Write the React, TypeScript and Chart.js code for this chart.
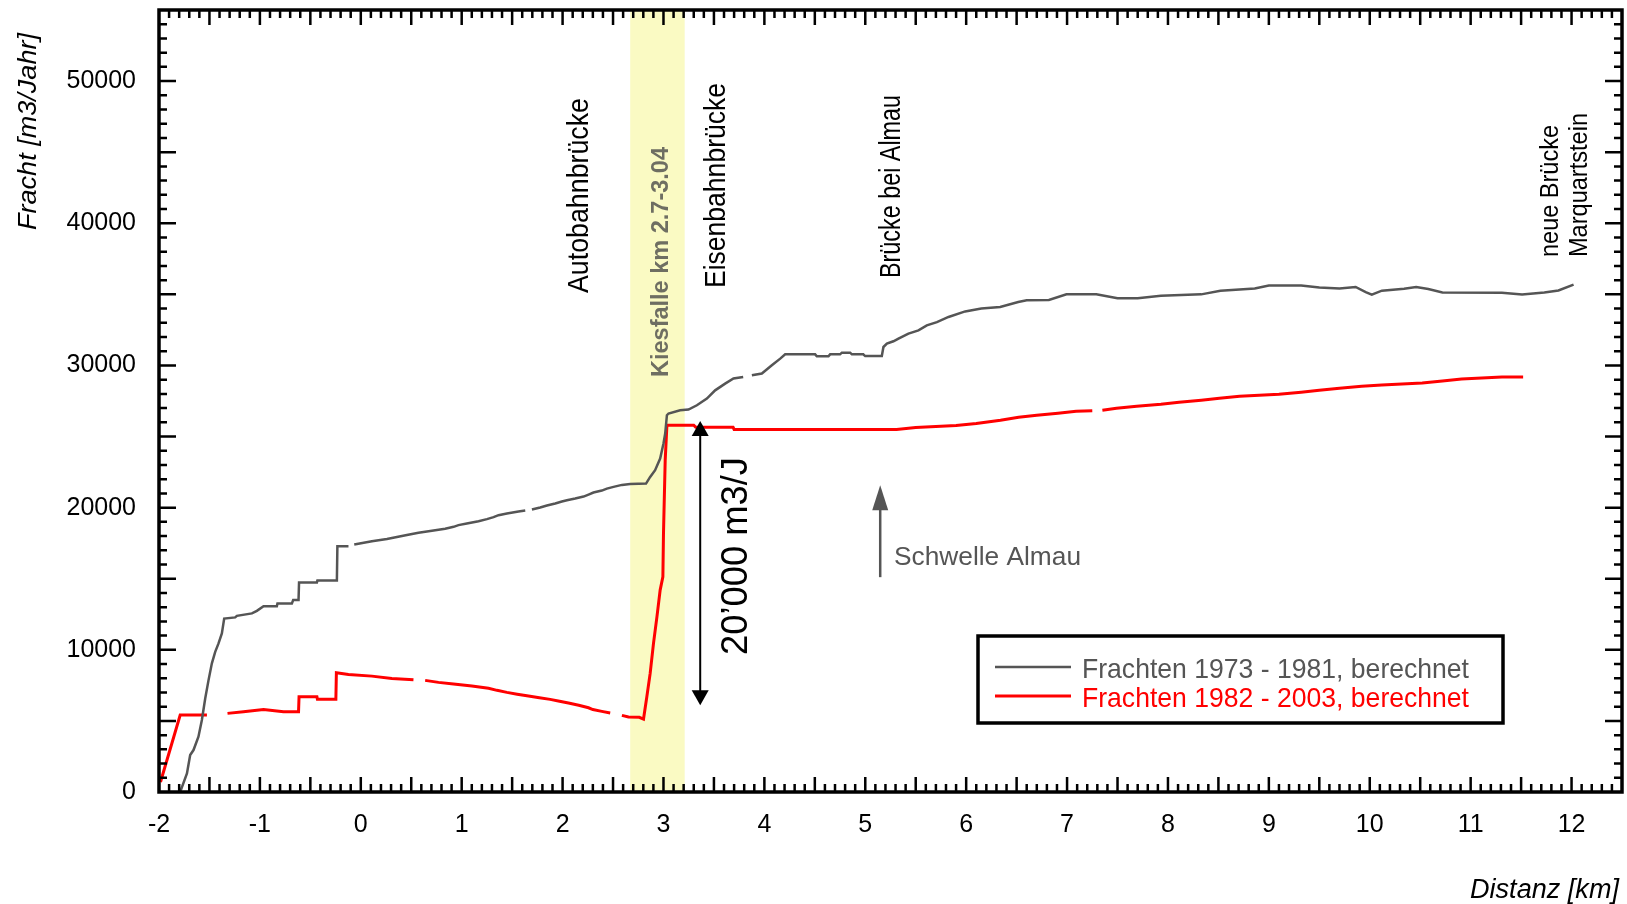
import React, { useEffect, useRef } from "react";
import { Chart, registerables } from "chart.js";

Chart.register(...registerables);

// ---------- data ----------
const seriesNames = ["Frachten 1973 - 1981, berechnet", "Frachten 1982 - 2003, berechnet"];

// Frachten 1973 - 1981 (grey)
const distance1973 = [
  -1.79, -1.723, -1.691, -1.658, -1.609, -1.575, -1.542, -1.509, -1.476, -1.443, -1.41, -1.377, -1.354,
  -1.245, -1.228, -1.079, -1.03, -0.964, -0.832, -0.826, -0.683, -0.67, -0.617, -0.612, -0.435, -0.43,
  -0.237, -0.232, -0.122, -0.1, -0.065, 0.11, 0.259, 0.358, 0.457, 0.572, 0.705, 0.836, 0.92, 0.968,
  1.051, 1.167, 1.25, 1.316, 1.365, 1.448, 1.563, 1.63, 1.66, 1.696, 1.778, 1.845, 1.927, 1.993, 2.043,
  2.125, 2.208, 2.257, 2.306, 2.389, 2.439, 2.505, 2.588, 2.67, 2.827, 2.868, 2.917, 2.967, 3.0, 3.017,
  3.034, 3.05, 3.165, 3.248, 3.331, 3.43, 3.512, 3.611, 3.694, 3.79, 3.83, 3.876, 3.975, 4.074, 4.157,
  4.206, 4.503, 4.52, 4.635, 4.652, 4.75, 4.768, 4.85, 4.867, 4.98, 4.999, 5.164, 5.18, 5.214, 5.279,
  5.329, 5.428, 5.527, 5.61, 5.71, 5.825, 5.99, 6.15, 6.337, 6.516, 6.6, 6.82, 6.994, 7.29, 7.5, 7.7,
  7.93, 8.33, 8.52, 8.86, 9.0, 9.32, 9.5, 9.7, 9.86, 9.96, 10.02, 10.12, 10.34, 10.46, 10.58, 10.72,
  11.31, 11.51, 11.73, 11.87, 12.02,
];
const load1973 = [
  0, 1310, 2600, 2950, 3890, 5060, 6580, 7870, 9050, 9860, 10450, 11150, 12200,
  12280, 12390, 12560, 12740, 13070, 13070, 13260, 13260, 13500, 13500, 14740, 14740, 14880,
  14880, 17290, 17290, null, 17410, 17640, 17800, 17940, 18080, 18240, 18380, 18520, 18650, 18770,
  18890, 19040, 19190, 19330, 19470, 19590, 19730, 19800, null, 19870, 20010, 20150, 20290, 20430, 20520,
  20640, 20780, 20920, 21060, 21200, 21340, 21460, 21600, 21670, 21690, 22160, 22630, 23450, 24510, 25210,
  26500, 26620, 26850, 26900, 27200, 27670, 28250, 28720, 29080, 29190, null, 29310, 29430, 30010, 30480,
  30780, 30780, 30640, 30640, 30780, 30780, 30900, 30900, 30780, 30780, 30660, 30660, 31300, 31530, 31700,
  31890, 32240, 32470, 32820, 33050, 33410, 33800, 34000, 34110, 34460, 34580, 34600, 35000, 35000, 34720, 34720,
  34900, 35000, 35250, 35420, 35630, 35630, 35480, 35420, 35520, 35150, 34980, 35260, 35400, 35520, 35380, 35130,
  35120, 34990, 35130, 35270, 35680,
];

// Frachten 1982 - 2003 (red)
const distance1982 = [
  -1.985, -1.79, -1.525, -1.42, -1.321, -1.163, -0.964, -0.766, -0.617, -0.612, -0.435, -0.43, -0.247,
  -0.242, -0.122, 0.11, 0.308, 0.522, 0.58, 0.638, 0.77, 0.919, 1.101, 1.266, 1.35, 1.448, 1.55, 1.662,
  1.77, 1.877, 1.97, 2.058, 2.16, 2.257, 2.3, 2.389, 2.472, 2.53, 2.588, 2.653, 2.76, 2.802, 2.835, 2.868,
  2.901, 2.935, 2.967, 2.994, 3.0, 3.017, 3.034, 3.3, 3.32, 3.69, 3.7, 5.31, 5.5, 5.9, 6.1, 6.34, 6.52,
  6.7, 6.91, 7.09, 7.25, 7.3, 7.35, 7.49, 7.69, 7.93, 8.11, 8.33, 8.51, 8.71, 9.1, 9.32, 9.5, 9.7, 9.92,
  10.12, 10.52, 10.72, 10.91, 11.31, 11.52,
];
const load1982 = [
  700, 5410, 5410, null, 5530, 5645, 5810, 5645, 5645, 6700, 6700, 6515, 6515,
  8385, 8270, 8150, 7990, 7900, null, 7850, 7710, 7590, 7450, 7290, 7150, 7007, 6880, 6747,
  6630, 6515, 6380, 6255, 6100, 5925, 5800, 5670, 5560, null, 5390, 5270, 5250, 5130, 6700, 8340,
  10450, 12320, 14200, 15130, 18180, 23340, 25800, 25800, 25650, 25650, 25500, 25500, 25630, 25770, 25910, 26150, 26360,
  26500, 26640, 26780, 26820, null, 26850, 26990, 27130, 27270, 27410, 27550, 27690, 27830, 27970, 28110, 28250, 28395, 28535,
  28630, 28770, 28910, 29050, 29190, 29190,
];

const xTickValues = [-2, -1, 0, 1, 2, 3, 4, 5, 6, 7, 8, 9, 10, 11, 12];
const yTickValues = [0, 10000, 20000, 30000, 40000, 50000];
const kiesfalleKm = [2.67, 3.21];

const xTitle = "Distanz [km]";
const yTitle = "Fracht [m3/Jahr]";
const bandLabel = "Kiesfalle km 2.7-3.04";
const difference = { km: 3.364, from: 26100, to: 6100, label: "20’000 m3/J" };
const sill = { km: 5.148, from: 15110, to: 21580, label: "Schwelle Almau" };

const FONT = "'Liberation Sans', Arial, sans-serif";
const GREY = "#555555";
const RED = "#ff0000";

function vText(ctx: CanvasRenderingContext2D, text: string, baseX: number, startY: number, font: string, color: string, len: number) {
  ctx.save();
  ctx.font = font;
  const w = ctx.measureText(text).width;
  ctx.translate(baseX, startY);
  ctx.rotate(-Math.PI / 2);
  ctx.scale(len / w, 1);
  ctx.fillStyle = color;
  ctx.textAlign = "left";
  ctx.textBaseline = "alphabetic";
  ctx.fillText(text, 0, 0);
  ctx.restore();
}

function hText(ctx: CanvasRenderingContext2D, text: string, x: number, baseY: number, font: string, color: string, len: number) {
  ctx.save();
  ctx.font = font;
  const w = ctx.measureText(text).width;
  ctx.translate(x, baseY);
  ctx.scale(len / w, 1);
  ctx.fillStyle = color;
  ctx.textAlign = "left";
  ctx.textBaseline = "alphabetic";
  ctx.fillText(text, 0, 0);
  ctx.restore();
}

function arrowHead(ctx: CanvasRenderingContext2D, x: number, tipY: number, dir: number, w: number, l: number) {
  ctx.beginPath();
  ctx.moveTo(x, tipY);
  ctx.lineTo(x - w / 2, tipY + dir * l);
  ctx.lineTo(x + w / 2, tipY + dir * l);
  ctx.closePath();
  ctx.fill();
}

const decoPlugin = {
  id: "deco",
  beforeDatasetsDraw(chart: any) {
    const { ctx, chartArea: a, scales } = chart;
    const x0 = scales.x.getPixelForValue(kiesfalleKm[0]);
    const x1 = scales.x.getPixelForValue(kiesfalleKm[1]);
    ctx.save();
    ctx.fillStyle = "#fafac3";
    ctx.fillRect(x0, a.top, x1 - x0, a.bottom - a.top);
    ctx.restore();
  },
  afterDatasetsDraw(chart: any) {
    const { ctx, chartArea: a, scales } = chart;
    const xs = scales.x, ys = scales.y;

    // vertical labels
    vText(ctx, "Autobahnbrücke", 588, 293, `30px ${FONT}`, "#000", 195);
    vText(ctx, bandLabel, 668, 377, `bold 24px ${FONT}`, "#6e6e62", 230);
    vText(ctx, "Eisenbahnbrücke", 725, 288, `30px ${FONT}`, "#000", 205);
    vText(ctx, "Brücke bei Almau", 900, 278, `30px ${FONT}`, "#000", 183);
    vText(ctx, "neue Brücke", 1558, 257, `25px ${FONT}`, "#000", 132);
    vText(ctx, "Marquartstein", 1587, 257, `25px ${FONT}`, "#000", 144);

    // difference arrow
    ctx.save();
    ctx.strokeStyle = "#000";
    ctx.fillStyle = "#000";
    ctx.lineWidth = 2;
    const dx = xs.getPixelForValue(difference.km);
    const dTop = ys.getPixelForValue(difference.from);
    const dBot = ys.getPixelForValue(difference.to);
    ctx.beginPath();
    ctx.moveTo(dx, dTop + 10);
    ctx.lineTo(dx, dBot - 10);
    ctx.stroke();
    arrowHead(ctx, dx, dTop, 1, 17, 15);
    arrowHead(ctx, dx, dBot, -1, 17, 15);
    ctx.restore();
    vText(ctx, difference.label, 747, 655, `37px ${FONT}`, "#000", 198);

    // sill arrow
    ctx.save();
    ctx.strokeStyle = GREY;
    ctx.fillStyle = GREY;
    ctx.lineWidth = 2.5;
    const sx = xs.getPixelForValue(sill.km);
    const sBot = ys.getPixelForValue(sill.from);
    const sTip = ys.getPixelForValue(sill.to);
    ctx.beginPath();
    ctx.moveTo(sx, sBot);
    ctx.lineTo(sx, sTip + 12);
    ctx.stroke();
    arrowHead(ctx, sx, sTip, 1, 16, 25);
    ctx.restore();
    hText(ctx, sill.label, 894, 565, `25px ${FONT}`, GREY, 187);

    // legend
    ctx.save();
    ctx.fillStyle = "#fff";
    ctx.fillRect(978, 636, 525, 87);
    ctx.strokeStyle = "#000";
    ctx.lineWidth = 3.5;
    ctx.strokeRect(978, 636, 525, 87);
    ctx.lineWidth = 2.5;
    ctx.strokeStyle = GREY;
    ctx.beginPath(); ctx.moveTo(995, 667); ctx.lineTo(1071, 667); ctx.stroke();
    ctx.lineWidth = 3;
    ctx.strokeStyle = RED;
    ctx.beginPath(); ctx.moveTo(995, 696); ctx.lineTo(1071, 696); ctx.stroke();
    ctx.restore();
    hText(ctx, seriesNames[0], 1082, 678, `28px ${FONT}`, GREY, 387);
    hText(ctx, seriesNames[1], 1082, 707, `28px ${FONT}`, RED, 387);

    // axis titles
    vText(ctx, yTitle, 36, 230, `italic 26px ${FONT}`, "#000", 197);
    hText(ctx, xTitle, 1619 - 149, 898, `italic 27px ${FONT}`, "#000", 149);

    // frame and tick marks
    ctx.save();
    ctx.strokeStyle = "#000";
    ctx.lineWidth = 2.5;
    ctx.beginPath();
    for (let v = 1000; v < 55000; v += 1000) {
      const py = ys.getPixelForValue(v);
      const len = v % 5000 === 0 ? 17 : 8;
      ctx.moveTo(a.left, py); ctx.lineTo(a.left + len, py);
      ctx.moveTo(a.right, py); ctx.lineTo(a.right - len, py);
    }
    for (let i = -19; i < 125; i++) {
      const px = xs.getPixelForValue(i / 10);
      const len = i % 5 === 0 ? 15 : 8;
      ctx.moveTo(px, a.bottom); ctx.lineTo(px, a.bottom - len);
      ctx.moveTo(px, a.top); ctx.lineTo(px, a.top + len);
    }
    ctx.stroke();
    ctx.lineWidth = 3.5;
    ctx.strokeRect(a.left, a.top, a.right - a.left, a.bottom - a.top);
    ctx.restore();
  },
};

export default function App() {
  const canvasRef = useRef<HTMLCanvasElement | null>(null);

  useEffect(() => {
    const canvas = canvasRef.current;
    if (!canvas) return;
    const chart = new Chart(canvas, {
      type: "line",
      data: {
        datasets: [
          {
            label: seriesNames[0],
            data: distance1973.map((d, i) => ({ x: d, y: load1973[i] })) as any,
            borderColor: GREY,
            borderWidth: 2.5,
            pointRadius: 0,
            tension: 0,
            spanGaps: false,
          },
          {
            label: seriesNames[1],
            data: distance1982.map((d, i) => ({ x: d, y: load1982[i] })) as any,
            borderColor: RED,
            borderWidth: 3,
            pointRadius: 0,
            tension: 0,
            spanGaps: false,
          },
        ],
      },
      options: {
        responsive: false,
        animation: false,
        layout: { padding: { top: 10, right: 5, left: 0, bottom: 0 } },
        plugins: { legend: { display: false }, tooltip: { enabled: false } },
        scales: {
          x: {
            type: "linear",
            min: -2,
            max: 12.5,
            afterBuildTicks: (s: any) => { s.ticks = xTickValues.map((v) => ({ value: v })); },
            afterFit: (s: any) => { s.height = 112; s.paddingLeft = 0; s.paddingRight = 0; },
            ticks: {
              font: { family: FONT, size: 25 },
              color: "#000",
              padding: 18,
              maxRotation: 0,
              autoSkip: false,
              callback: (v: any) => String(v),
            },
            grid: { display: false, drawTicks: false },
            border: { display: false },
          },
          y: {
            type: "linear",
            min: 0,
            max: 55000,
            afterBuildTicks: (s: any) => { s.ticks = yTickValues.map((v) => ({ value: v })); },
            afterFit: (s: any) => { s.width = 159; s.paddingTop = 0; s.paddingBottom = 0; },
            ticks: {
              font: { family: FONT, size: 25 },
              color: "#000",
              padding: 23,
              autoSkip: false,
              callback: (v: any) => String(v),
            },
            grid: { display: false, drawTicks: false },
            border: { display: false },
          },
        },
      },
      plugins: [decoPlugin],
    });
    return () => chart.destroy();
  }, []);

  return (
    <div style={{ position: "fixed", left: 0, top: 0, width: 1627, height: 904, background: "#fff" }}>
      <canvas ref={canvasRef} width={1627} height={904} style={{ display: "block" }} />
    </div>
  );
}
